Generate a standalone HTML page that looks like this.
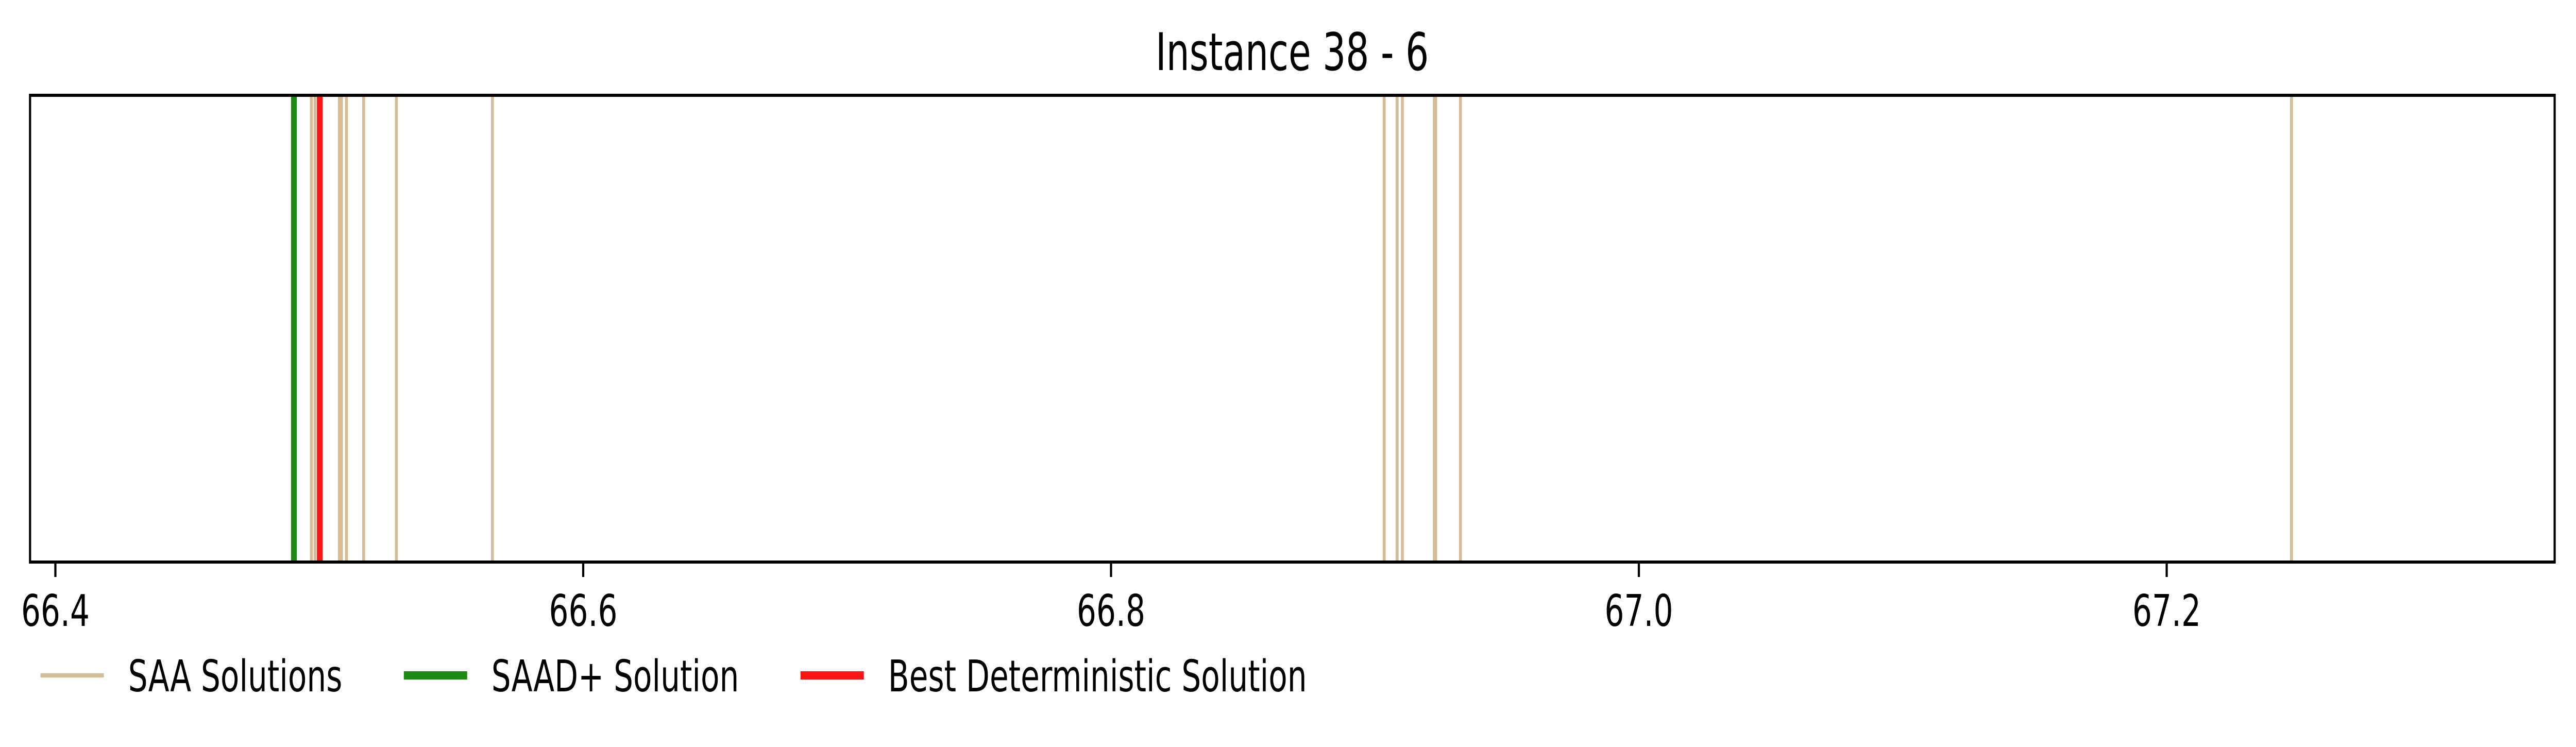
<!DOCTYPE html>
<html><head><meta charset="utf-8"><meta name="viewport" content="width=7117, initial-scale=1"><style>
html,body{margin:0;padding:0;background:#fff;width:100%;height:100%;overflow:hidden;}
svg{display:block;width:100vw;height:100vh;font-family:"DejaVu Sans","Liberation Sans",sans-serif;}
</style></head><body>
<svg id="chart" viewBox="0 0 7117 1450" preserveAspectRatio="none" xmlns="http://www.w3.org/2000/svg">
<rect x="0" y="0" width="7117" height="1450" fill="#fff"/>
<text x="3570" y="136" font-size="101" text-anchor="middle">Instance 38 - 6</text>
<g id="marks"></g>
<g id="axes"></g>
<g id="legend"></g>
</svg>
<script>
const saaValues = [66.4970, 66.4984, 66.5076, 66.5084, 66.5103, 66.5168, 66.5292, 66.5656, 66.9035, 66.9084, 66.9104, 66.9225, 66.9230, 66.9324, 67.2473];
const saadValue = [66.4904];
const bestDetValue = [66.5002];
const tickValues = [66.4, 66.6, 66.8, 67.0, 67.2];
const tickLabels = ["66.4", "66.6", "66.8", "67.0", "67.2"];
const legendLabels = ["SAA Solutions", "SAAD+ Solution", "Best Deterministic Solution"];

const NS = "http://www.w3.org/2000/svg";
const L = 83, R = 7058, T = 185, B = 1091;
const xMin = 66.3904, xMax = 67.3470;
function xScale(v){ return L + (v - xMin) / (xMax - xMin) * (R - L); }
function mk(tag, attrs, parent){
  const e = document.createElementNS(NS, tag);
  for (const k in attrs) e.setAttribute(k, attrs[k]);
  parent.appendChild(e);
  return e;
}
const marks = document.getElementById("marks");
const axes = document.getElementById("axes");
const legend = document.getElementById("legend");
const tan = "rgb(214,188,150)", green = "rgb(26,138,18)", red = "rgb(250,20,20)";

saaValues.forEach(v => {
  const el = mk("line", {x1: xScale(v), x2: xScale(v), y1: T, y2: B, stroke: tan, "stroke-width": 8}, marks);
  
  
});
saadValue.forEach(v => {
  const el = mk("line", {x1: xScale(v), x2: xScale(v), y1: T, y2: B, stroke: green, "stroke-width": 16}, marks);
  
  
});
bestDetValue.forEach(v => {
  const el = mk("line", {x1: xScale(v), x2: xScale(v), y1: T, y2: B, stroke: red, "stroke-width": 16}, marks);
  
  
});

const frame = mk("rect", {x: L, y: T, width: R - L, height: B - T, fill: "none", stroke: "#000", "stroke-width": 6}, axes);



tickValues.forEach((v, i) => {
  const x = xScale(v);
  const t = mk("line", {x1: x, x2: x, y1: B + 3, y2: B + 29, stroke: "#000", "stroke-width": 6}, axes);
  
  
  const lab = mk("text", {x: x, y: 1215, "font-size": 85, "text-anchor": "middle"}, axes);
  lab.textContent = tickLabels[i];
  
  
});

const legColors = [tan, green, red];
const legWidths = [8, 16, 16];
let lx = 112;
legendLabels.forEach((name, i) => {
  const g = mk("g", {}, legend);
  
  
  mk("line", {x1: lx, x2: lx + 175, y1: 1311, y2: 1311, stroke: legColors[i], "stroke-width": legWidths[i]}, g);
  const tx = mk("text", {x: lx + 175 + 67, y: 1342, "font-size": 85}, g);
  tx.textContent = name;
  let w = 0;
  try { w = tx.getComputedTextLength(); } catch(e) { w = name.length * 52; }
  if (!w) w = name.length * 52;
  lx = lx + 175 + 67 + w + 170;
});
</script>
</body></html>
